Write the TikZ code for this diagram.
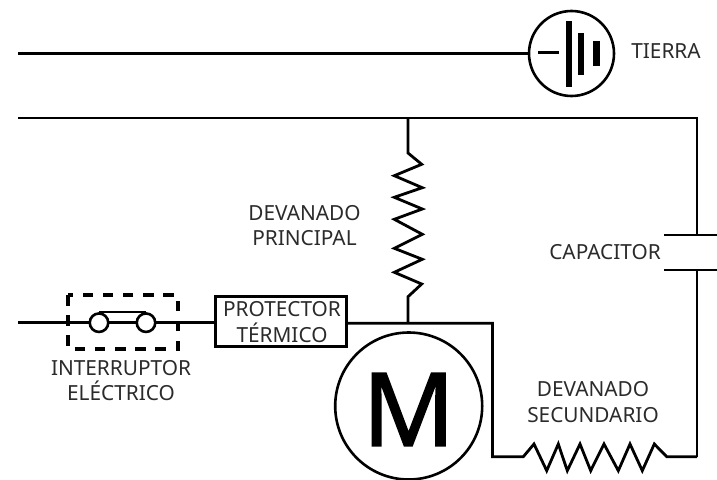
\documentclass[tikz,border=0pt]{standalone}
\usepackage{fontspec}
\setmainfont{Noto Sans}
\newfontfamily\motorfont[FakeBold=1.6]{Noto Sans}
\definecolor{labelgray}{HTML}{2B2B2B}
\tikzset{
  wire/.style={line width=2.8pt,line join=miter},
  label/.style={font=\fontsize{20.8}{25.5}\selectfont,text=labelgray,align=center,inner sep=0pt},
  bar/.style={fill=black,draw=none}
}
\begin{document}
\begin{tikzpicture}[x=1pt,y=-1pt]
    \useasboundingbox (0,0) rectangle (717,479);

    % tierra
    \node[circle,draw,line width=2.6pt,minimum size=85pt,inner sep=0pt] (tierra) at (571.5,53.5) {};
    \coordinate (tierraIn) at (18,53.5);
    \draw[wire] (tierraIn) -- (tierra.west);
    \draw[wire] (538,52.5) -- (559,52.5);
    \fill[bar] (566,21) rectangle (572,87);
    \fill[bar] (578,33) rectangle (584,75);
    \fill[bar] (592.5,41) rectangle (599.5,66);
    \node[label] (tierraL) at (666,51) {TIERRA};

    % linea de arriba y capacitor
    \coordinate (topL) at (18,118);
    \coordinate (topR) at (697,118);
    \coordinate (capTop) at (697,235);
    \coordinate (capBot) at (697,270);
    \coordinate (botR) at (697,456.7);
    \draw[wire] (topL) -- (topR) -- (capTop);
    \draw[wire] (capBot) -- (botR);
    \draw[wire] (664,235) -- (717,235);
    \draw[wire] (664,270) -- (717,270);
    \node[label] (capL) at (605,252) {CAPACITOR};

    % devanado principal
    \coordinate (mainTop) at (408,118);
    \coordinate (mainBot) at (408,323);
    \draw[wire] (mainTop) -- (408,153) -- (421.7,164.3) -- (394.3,175.7) -- (422.3,187.7)
      -- (394.3,197.3) -- (422.3,209) -- (394.3,219.3) -- (422.3,234.3) -- (394.3,248.3)
      -- (422.3,259.3) -- (394.3,272.3) -- (421.7,284) -- (408,296.7) -- (mainBot);
    \node[label] (mainL) at (304.5,225.5) {DEVANADO\\PRINCIPAL};

    % protector e interruptor
    \node[draw,line width=2.8pt,minimum width=131pt,minimum height=50pt,inner sep=0pt] (protector) at (281,321.5) {};
    \node[label] (protectorL) at (282,322.3) {PROTECTOR\\T\'ERMICO};
    \coordinate (lineIn) at (18,322.7);
    \draw[wire] (lineIn) -- (protector.west |- lineIn);
    \draw[wire] (99,312) -- (146,312);
    \foreach \x/\n in {99/swA,146/swB} {
        \node[circle,draw,fill=white,line width=2.6pt,minimum size=18.5pt,inner sep=0pt] (\n) at (\x,322.7) {};
    }
    \draw[line width=3.5pt,dash pattern=on 10.5pt off 9.7pt] (68,295) rectangle (178,349);
    \node[label] (swL) at (121,380.5) {INTERRUPTOR\\EL\'ECTRICO};

    % motor
    \node[circle,draw,line width=2.6pt,minimum size=147pt,inner sep=0pt] (motor) at (408.7,406) {};
    \node[inner sep=0pt,font=\motorfont\fontsize{102}{102}\selectfont] (motorL) at (408.7,409.5) {M};

    % devanado secundario
    \coordinate (secTop) at (492.5,323.3);
    \coordinate (secBot) at (492.5,456.7);
    \draw[wire] (protector.east |- secTop) -- (secTop) -- (secBot) -- (523.3,456.7)
      -- (534,444) -- (546.7,470.7) -- (558.3,444) -- (567.3,470.7) -- (580,444)
      -- (590.7,470.7) -- (604,444) -- (618.3,470.7) -- (630,444) -- (642.3,470.7)
      -- (654.3,444) -- (666.7,456.7) -- (botR);
    \node[label] (secL) at (593,402) {DEVANADO\\SECUNDARIO};
\end{tikzpicture}
\end{document}
